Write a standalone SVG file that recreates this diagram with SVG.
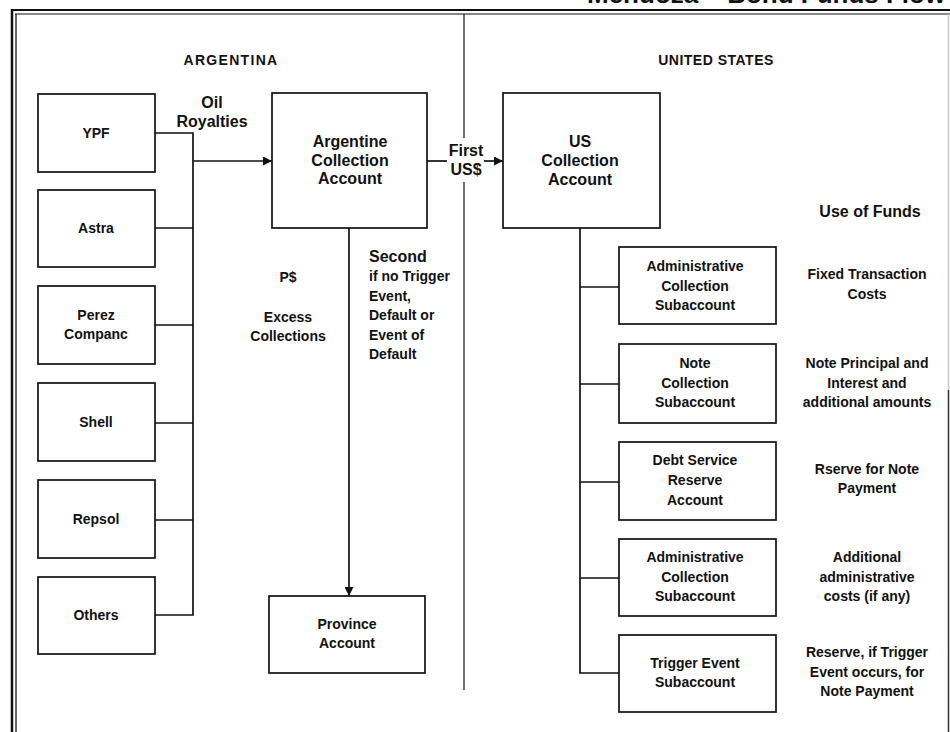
<svg xmlns="http://www.w3.org/2000/svg" width="950" height="732" viewBox="0 0 950 732">
<style>
text{font-family:"Liberation Sans",Arial,sans-serif;font-weight:bold;fill:#111;text-anchor:middle}
.s14{font-size:14px}
.s16{font-size:16px}
.lft{text-anchor:start}
.box{fill:#fff;stroke:#111;stroke-width:1.7}
.ln{fill:none;stroke:#111;stroke-width:1.7}
.frame{fill:none;stroke:#111}
</style>
<defs>
<marker id="arr" viewBox="0 0 10 10" refX="10" refY="5" markerWidth="11" markerHeight="9" markerUnits="userSpaceOnUse" orient="auto">
<path d="M0,0 L10,5 L0,10 z" fill="#111"/>
</marker>
</defs>
<rect width="950" height="732" fill="#fff"/>
<g id="frame">
<text x="587" y="3" class="lft" style="font-size:26px">Mendoza – Bond Funds Flow</text>
<line class="frame" x1="11" y1="10" x2="950" y2="10" stroke-width="2.2"/>
<line class="frame" x1="15" y1="14" x2="950" y2="14" stroke-width="1.2"/>
<line class="frame" x1="12" y1="9" x2="12" y2="732" stroke-width="2.5"/>
<line class="frame" x1="16" y1="14" x2="16" y2="732" stroke-width="1.3"/>
<line x1="948.5" y1="14" x2="948.5" y2="390" stroke="#c8c8c8" stroke-width="1.5"/>
<line x1="948.5" y1="390" x2="948.5" y2="732" stroke="#333" stroke-width="1.5"/>
<line x1="464" y1="14" x2="464" y2="690" stroke="#111" stroke-width="1.2"/>
<text x="231" y="65" class="s14" letter-spacing="1.3">ARGENTINA</text>
<text x="716" y="65" class="s14" letter-spacing="0.5">UNITED STATES</text>
<text x="870" y="217" class="s16">Use of Funds</text>
</g>
<g id="connectors">
<polyline class="ln" points="155,133 193,133 193,615 155,615"/>
<line class="ln" x1="155" y1="228" x2="193" y2="228"/>
<line class="ln" x1="155" y1="325" x2="193" y2="325"/>
<line class="ln" x1="155" y1="423" x2="193" y2="423"/>
<line class="ln" x1="155" y1="520" x2="193" y2="520"/>
<line class="ln" x1="193" y1="161" x2="272" y2="161" marker-end="url(#arr)"/>
<text x="212" y="108" class="s16">Oil</text>
<text x="212" y="127" class="s16">Royalties</text>
<line class="ln" x1="427" y1="161" x2="447" y2="161"/>
<rect x="447" y="138" width="37" height="44" fill="#fff"/>
<text x="466" y="156" class="s16">First</text>
<text x="466" y="175" class="s16">US$</text>
<line class="ln" x1="484" y1="161" x2="503" y2="161" marker-end="url(#arr)"/>
<line class="ln" x1="349" y1="228" x2="349" y2="596" marker-end="url(#arr)"/>
<text x="288" y="282" class="s14">P$</text>
<text x="288" y="322" class="s14">Excess</text>
<text x="288" y="341" class="s14">Collections</text>
<text x="369" y="262" class="s16 lft">Second</text>
<text x="369" y="281" class="s14 lft">if no Trigger</text>
<text x="369" y="301" class="s14 lft">Event,</text>
<text x="369" y="320" class="s14 lft">Default or</text>
<text x="369" y="340" class="s14 lft">Event of</text>
<text x="369" y="359" class="s14 lft">Default</text>
<polyline class="ln" points="580,228 580,673 619,673"/>
<line class="ln" x1="580" y1="287" x2="619" y2="287"/>
<line class="ln" x1="580" y1="384" x2="619" y2="384"/>
<line class="ln" x1="580" y1="482" x2="619" y2="482"/>
<line class="ln" x1="580" y1="578" x2="619" y2="578"/>
</g>
<g id="ypf"><rect class="box" x="38" y="94" width="117" height="78"/><text x="96" y="138" class="s14">YPF</text></g>
<g id="astra"><rect class="box" x="38" y="190" width="117" height="77"/><text x="96" y="233" class="s14">Astra</text></g>
<g id="perez"><rect class="box" x="38" y="286" width="117" height="78"/><text x="96" y="320" class="s14">Perez</text><text x="96" y="339" class="s14">Companc</text></g>
<g id="shell"><rect class="box" x="38" y="383" width="117" height="78"/><text x="96" y="427" class="s14">Shell</text></g>
<g id="repsol"><rect class="box" x="38" y="480" width="117" height="78"/><text x="96" y="524" class="s14">Repsol</text></g>
<g id="others"><rect class="box" x="38" y="577" width="117" height="77"/><text x="96" y="620" class="s14">Others</text></g>
<g id="argentine-collection"><rect class="box" x="272" y="93" width="155" height="135"/>
<text x="350" y="147" class="s16">Argentine</text><text x="350" y="166" class="s16">Collection</text><text x="350" y="184" class="s16">Account</text></g>
<g id="province"><rect class="box" x="269" y="596" width="156" height="77"/>
<text x="347" y="629" class="s14">Province</text><text x="347" y="648" class="s14">Account</text></g>
<g id="us-collection"><rect class="box" x="503" y="93" width="157" height="135"/>
<text x="580" y="147" class="s16">US</text><text x="580" y="166" class="s16">Collection</text><text x="580" y="185" class="s16">Account</text></g>
<g id="sub1"><rect class="box" x="619" y="247" width="157" height="77"/>
<text x="695" y="271" class="s14">Administrative</text><text x="695" y="291" class="s14">Collection</text><text x="695" y="310" class="s14">Subaccount</text></g>
<g id="sub2"><rect class="box" x="619" y="344" width="157" height="79"/>
<text x="695" y="368" class="s14">Note</text><text x="695" y="388" class="s14">Collection</text><text x="695" y="407" class="s14">Subaccount</text></g>
<g id="sub3"><rect class="box" x="619" y="442" width="157" height="78"/>
<text x="695" y="465" class="s14">Debt Service</text><text x="695" y="485" class="s14">Reserve</text><text x="695" y="505" class="s14">Account</text></g>
<g id="sub4"><rect class="box" x="619" y="539" width="157" height="77"/>
<text x="695" y="562" class="s14">Administrative</text><text x="695" y="582" class="s14">Collection</text><text x="695" y="601" class="s14">Subaccount</text></g>
<g id="sub5"><rect class="box" x="619" y="635" width="157" height="77"/>
<text x="695" y="668" class="s14">Trigger Event</text><text x="695" y="687" class="s14">Subaccount</text></g>
<g id="uses">
<text x="867" y="279" class="s14">Fixed Transaction</text><text x="867" y="299" class="s14">Costs</text>
<text x="867" y="368" class="s14">Note Principal and</text><text x="867" y="388" class="s14">Interest and</text><text x="867" y="407" class="s14">additional amounts</text>
<text x="867" y="474" class="s14">Rserve for Note</text><text x="867" y="493" class="s14">Payment</text>
<text x="867" y="562" class="s14">Additional</text><text x="867" y="582" class="s14">administrative</text><text x="867" y="601" class="s14">costs (if any)</text>
<text x="867" y="657" class="s14">Reserve, if Trigger</text><text x="867" y="677" class="s14">Event occurs, for</text><text x="867" y="696" class="s14">Note Payment</text>
</g>
</svg>
